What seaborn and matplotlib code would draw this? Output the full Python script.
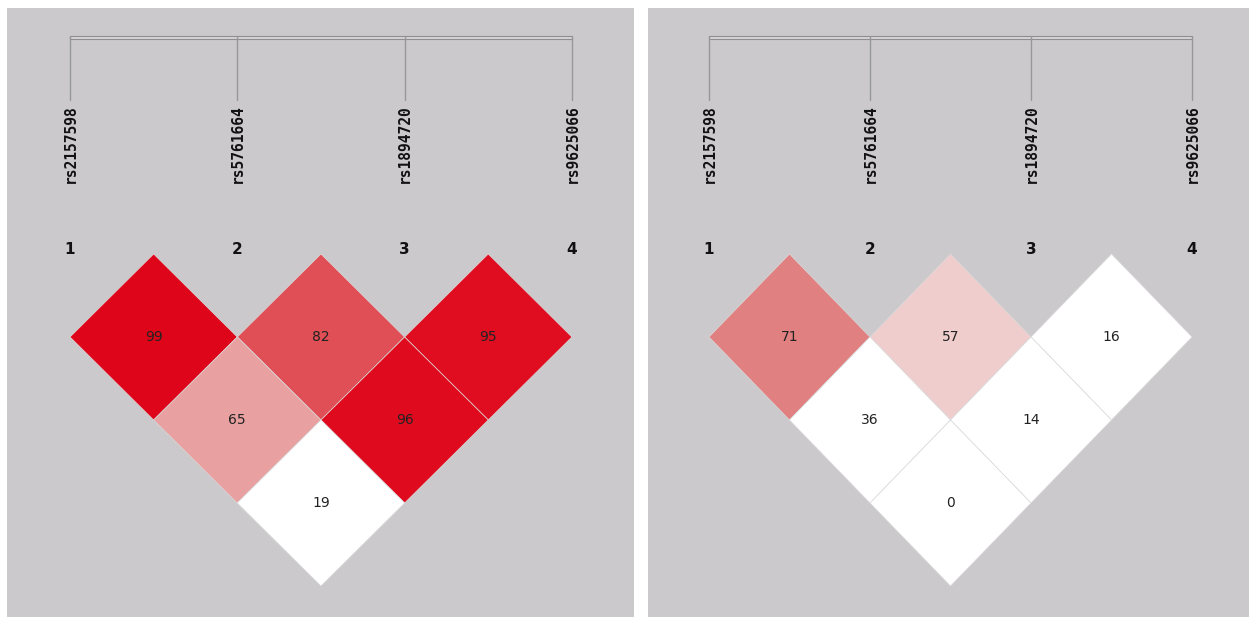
import matplotlib
matplotlib.use("Agg")
import matplotlib.pyplot as plt
from matplotlib.patches import Polygon, Rectangle
import seaborn as sns

# Marker names and pairwise LD values (D' x 100) for the two panels.
markers = ["rs2157598", "rs5761664", "rs1894720", "rs9625066"]
pair_first = [1, 2, 3, 1, 2, 1]
pair_second = [2, 3, 4, 3, 4, 4]
ld_left = [99, 82, 95, 65, 96, 19]
ld_right = [71, 57, 16, 36, 14, 0]

# Cell colours (style only), in the same pair order.
colors_left = ["#DE0419", "#E04E56", "#E00D20", "#E8A0A0", "#E00A1E", "#FFFFFF"]
colors_right = ["#E08081", "#F0CDCD", "#FFFFFF", "#FFFFFF", "#FFFFFF", "#FFFFFF"]

sns.set_theme(style="white")
plt.rcParams["font.family"] = ["DejaVu Sans"]

W, H = 1249, 617
fig = plt.figure(figsize=(W / 100, H / 100), dpi=100)
fig.patch.set_facecolor("white")

bg = "#CBC9CC"


def draw_panel(px_left, px_right, x0, step, values, colors):
    # axes in figure pixels, data x = marker index, y = half-depth of pair
    top_px, bot_px = 8, 617
    ax = fig.add_axes([px_left / W, (H - bot_px) / H,
                       (px_right - px_left) / W, (bot_px - top_px) / H])
    ax.set_facecolor(bg)
    ax.set_xlim((px_left - x0) / step, (px_right - x0) / step)
    y0, ystep = 254, 166
    ax.set_ylim((bot_px - y0) / ystep, (top_px - y0) / ystep)
    ax.set_xticks([])
    ax.set_yticks([])
    sns.despine(ax=ax, left=True, bottom=True)

    n = len(markers)
    # chromosome bar and marker lines
    ax.add_patch(Rectangle((0, -1.316), n - 1, 0.02, facecolor="#D6D4D7",
                           edgecolor="#8E8E8E", linewidth=0.8))
    for k, name in enumerate(markers):
        ax.plot([k, k], [-1.316, -0.93], color="#979797", linewidth=1)
        ax.text(k, -0.9, name, rotation=90, ha="center", va="top",
                fontsize=10.5, fontweight="bold", family="DejaVu Sans Mono",
                color="#111111")
        ax.text(k, -0.025, str(k + 1), ha="center", va="center",
                fontsize=11, fontweight="bold", color="#111111")

    for a, b, v, c in zip(pair_first, pair_second, values, colors):
        cx = (a - 1 + b - 1) / 2
        cy = (b - a) / 2
        verts = [(cx - 0.5, cy), (cx, cy - 0.5), (cx + 0.5, cy), (cx, cy + 0.5)]
        ax.add_patch(Polygon(verts, closed=True, facecolor=c,
                             edgecolor="#DADADA", linewidth=0.5))
        ax.text(cx, cy, str(v), ha="center", va="center", fontsize=10,
                color="#222222")
    return ax


draw_panel(7, 634, 70, 167.3, ld_left, colors_left)
draw_panel(648, 1249, 709, 161, ld_right, colors_right)

fig.savefig("out.png", dpi=100, facecolor="white")
